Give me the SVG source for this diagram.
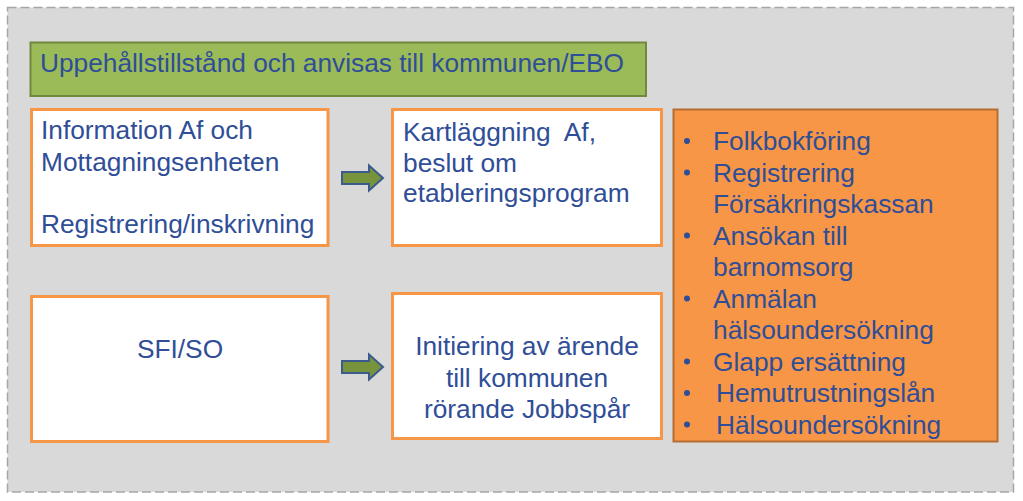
<svg xmlns="http://www.w3.org/2000/svg" width="1023" height="501" viewBox="0 0 1023 501">
<style>
.t{font-family:"Liberation Sans",Arial,sans-serif;font-size:26.3px;fill:#2F4E97}
.box{fill:#FFFFFF;stroke:#F79646;stroke-width:3}
.arrow{fill:#77933C;stroke:#3B5B8C;stroke-width:2;stroke-linejoin:miter}
.b{fill:#2F4E97}
</style>
<defs>
<path id="arr" d="M0,-6 L27,-6 L27,-12.5 L41,0 L27,12.5 L27,6 L0,6 Z"/>
</defs>
<rect width="1023" height="501" fill="#FFFFFF"/>
<g id="frame">
<rect x="7.5" y="7.5" width="1006" height="484.5" fill="#D9D9D9" stroke="#A6A6A6" stroke-width="1.5" stroke-dasharray="9,4"/>
</g>
<g id="title">
<rect x="30.5" y="42.5" width="615.5" height="53.5" fill="#9BBB59" stroke="#71893F" stroke-width="2"/>
<text class="t" x="40" y="72" textLength="584" lengthAdjust="spacingAndGlyphs">Uppehållstillstånd och anvisas till kommunen/EBO</text>
</g>
<g id="info">
<rect class="box" x="31.5" y="109.5" width="296.5" height="136"/>
<text class="t" x="41" y="139">Information Af och</text>
<text class="t" x="41" y="170.5">Mottagningsenheten</text>
<text class="t" x="41" y="233">Registrering/inskrivning</text>
</g>
<g id="kartlaggning">
<rect class="box" x="392.5" y="109.5" width="269" height="136"/>
<text class="t" x="403" y="141" xml:space="preserve">Kartläggning  Af,</text>
<text class="t" x="403" y="171.5">beslut om</text>
<text class="t" x="403" y="202">etableringsprogram</text>
</g>
<g id="sfi">
<rect class="box" x="31.5" y="296.5" width="296.5" height="145"/>
<text class="t" x="180" y="358" text-anchor="middle">SFI/SO</text>
</g>
<g id="initiering">
<rect class="box" x="392.5" y="293.5" width="269" height="145"/>
<text class="t" x="527" y="355" text-anchor="middle">Initiering av ärende</text>
<text class="t" x="527" y="386.5" text-anchor="middle">till kommunen</text>
<text class="t" x="527" y="418" text-anchor="middle">rörande Jobbspår</text>
</g>
<g id="list">
<rect x="673.5" y="109.5" width="324" height="332" fill="#F79646" stroke="#B66D31" stroke-width="2"/>
<g class="b">
<circle cx="687" cy="141" r="3"/>
<circle cx="687" cy="172.5" r="3"/>
<circle cx="687" cy="235.5" r="3"/>
<circle cx="687" cy="298.5" r="3"/>
<circle cx="687" cy="361.5" r="3"/>
<circle cx="687" cy="393" r="3"/>
<circle cx="687" cy="424.5" r="3"/>
</g>
<text class="t" x="713" y="150">Folkbokföring</text>
<text class="t" x="713" y="181.5">Registrering</text>
<text class="t" x="713" y="213">Försäkringskassan</text>
<text class="t" x="713" y="244.5">Ansökan till</text>
<text class="t" x="713" y="276">barnomsorg</text>
<text class="t" x="713" y="307.5">Anmälan</text>
<text class="t" x="713" y="339">hälsoundersökning</text>
<text class="t" x="713" y="370.5">Glapp ersättning</text>
<text class="t" x="716" y="402">Hemutrustningslån</text>
<text class="t" x="716" y="433.5">Hälsoundersökning</text>
</g>
<g id="connectors">
<use href="#arr" class="arrow" x="342" y="178"/>
<use href="#arr" class="arrow" x="342" y="367"/>
</g>
</svg>
